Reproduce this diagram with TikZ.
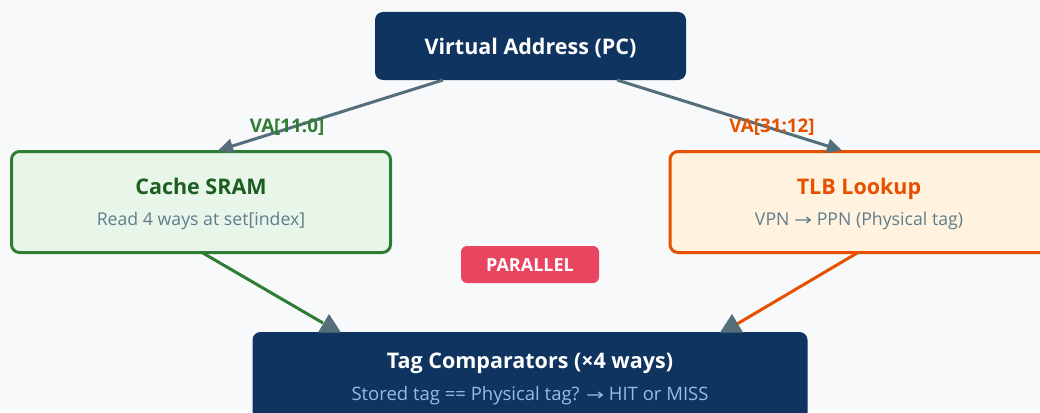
\documentclass[tikz,border=0pt]{standalone}
\usepackage{fontspec}
\usepackage{graphicx}
\setmainfont{Open Sans}
\newfontfamily\symfont{DejaVu Sans}
\usetikzlibrary{arrows.meta,calc}
\definecolor{bgc}{HTML}{F8F9FB}
\definecolor{navy}{HTML}{0F3460}
\definecolor{badge}{HTML}{E94560}
\definecolor{gline}{HTML}{2E7D32}
\definecolor{gfill}{HTML}{E8F5E9}
\definecolor{gtext}{HTML}{1B5E20}
\definecolor{oline}{HTML}{E65100}
\definecolor{ofill}{HTML}{FFF3E0}
\definecolor{subgray}{HTML}{607D8B}
\definecolor{arrowc}{HTML}{546E7A}
\definecolor{subblue}{HTML}{93BFDF}
\newcommand{\arr}{\scalebox{1.35}[1]{\symfont\fontsize{16}{18}\selectfont→}}
\begin{document}
\begin{tikzpicture}[x=1pt,y=-1pt,
  box/.style={rounded corners=8pt, inner sep=0pt, outer sep=0pt},
  titlef/.style={font=\bfseries\fontsize{21.5}{26}\selectfont, anchor=base, inner sep=0pt},
  subf/.style={font=\fontsize{17.7}{21}\selectfont, anchor=base, inner sep=0pt},
  labf/.style={font=\bfseries\fontsize{18.8}{22}\selectfont, inner sep=0pt},
  flow/.style={draw=arrowc, line width=3pt, -{Triangle[length=15pt,width=14pt]}},
  tipmark/.style={fill=arrowc}]
\fill[bgc] (0,0) rectangle (1040,412);
\useasboundingbox (0,0) rectangle (1040,412);
\clip (0,0) rectangle (1040,412);

% boxes
\node[box, fill=navy, minimum width=311pt, minimum height=68pt] (va) at (530.5,46) {};
\node[titlef, text=white] (vat) at (530.5,55) {Virtual Address (PC)};

\node[box, draw=gline, fill=gfill, line width=3pt, minimum width=379pt, minimum height=101pt] (cache) at (201,202) {};
\node[titlef, text=gtext] (cachet) at (201,194) {Cache SRAM};
\node[subf, text=subgray] (caches) at (201,225) {Read 4 ways at set[index]};

\node[box, draw=oline, fill=ofill, line width=3pt, minimum width=379pt, minimum height=101pt] (tlb) at (859.5,202) {};
\node[titlef, text=oline] (tlbt) at (859,194) {TLB Lookup};
\node[subf, text=subgray] (tlbs) at (859,225) {VPN \arr{} PPN (Physical tag)};

\node[box, fill=badge, minimum width=138pt, minimum height=37pt, rounded corners=6pt] (par) at (530,264.5) {};
\node[inner sep=0pt, text=white, font=\bfseries\fontsize{18}{20}\selectfont] (part) at (530,265) {PARALLEL};

\node[box, fill=navy, minimum width=555pt, minimum height=100pt] (cmp) at (530,382) {};
\node[titlef, text=white] (cmpt) at (530,368) {Tag Comparators (×4 ways)};
\node[subf, text=subblue, font=\fontsize{18.5}{22}\selectfont] (cmps) at (530,400) {Stored tag == Physical tag? \arr{} HIT or MISS};

% top arrows
\draw[flow] ($(va.south)+(-87.5,0)$) -- ($(cache.north)+(17,-1)$);
\draw[flow] ($(va.south)+(86.5,0)$) -- ($(tlb.north)+(-17.5,-1)$);
\node[labf, text=gline] (l1) at (287,127) {VA[11:0]};
\node[labf, text=oline] (l2) at (772,127) {VA[31:12]};

% bottom connectors
\coordinate (e1) at (323,323);
\coordinate (e2) at (737,324);
\draw[gline, line width=3pt] ($(cache.south)+(1,0)$) -- (e1);
\draw[oline, line width=3pt] ($(tlb.south)+(-1.5,0)$) -- (e2);
\fill[tipmark] (329,314) -- (341,332.5) -- (318,332.5) -- cycle;
\fill[tipmark] (732,314) -- (743,332.5) -- (720,332.5) -- cycle;
\end{tikzpicture}
\end{document}
